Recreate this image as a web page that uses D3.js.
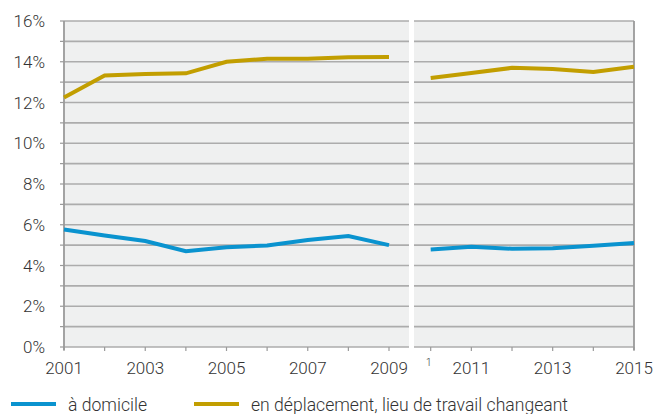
<!DOCTYPE html>
<html lang="fr">
<head>
  <meta charset="UTF-8">
  <title>Lieu de travail</title>
  <script src="https://d3js.org/d3.v7.min.js"></script>
  <style>
    body { margin: 0; background: #fff; font-family: Roboto, sans-serif; }
    text { font-family: Roboto, sans-serif; font-weight: 300; fill: #333; }
  </style>
</head>
<body>
<svg id="chart" width="654" height="414"></svg>
<script>
// données
const yearsA = [2001, 2002, 2003, 2004, 2005, 2006, 2007, 2008, 2009];
const yearsB = [2010, 2011, 2012, 2013, 2014, 2015];
const domicileA = [5.77, 5.47, 5.2, 4.7, 4.9, 4.98, 5.25, 5.45, 5.0];
const domicileB = [4.79, 4.92, 4.82, 4.85, 4.97, 5.11];
const deplacementA = [12.25, 13.33, 13.4, 13.43, 14.0, 14.15, 14.15, 14.22, 14.23];
const deplacementB = [13.2, 13.45, 13.7, 13.65, 13.5, 13.75];
const yTicks = [0, 2, 4, 6, 8, 10, 12, 14, 16];
const xLabels = [2001, 2003, 2005, 2007, 2009, 2011, 2013, 2015];

const blue = "#0a93cf", gold = "#c29e00", grid = "#acacac";
const svg = d3.select("#chart");

const y = d3.scaleLinear().domain([0, 16]).range([347, 21]);
const xA = d3.scaleLinear().domain([2001, 2009]).range([64, 389]);
const xB = d3.scaleLinear().domain([2010, 2015]).range([430.7, 634]);

// panneaux
const panels = [[64, 409], [414, 634]];
panels.forEach(([x0, x1]) => {
  svg.append("rect").attr("x", x0).attr("y", y(16)).attr("width", x1 - x0)
    .attr("height", y(0) - y(16)).attr("fill", "#eff0f0");
  svg.append("g").selectAll("line").data(d3.range(0, 17)).join("line")
    .attr("x1", x0).attr("x2", x1)
    .attr("y1", d => y(d)).attr("y2", d => y(d))
    .attr("stroke", grid).attr("stroke-width", 1.6);
});

// axe y
svg.append("line").attr("x1", 64).attr("x2", 64).attr("y1", y(16)).attr("y2", y(0) + 3)
  .attr("stroke", "#9a9a9a").attr("stroke-width", 1.8);
svg.append("line").attr("x1", 634).attr("x2", 634).attr("y1", y(16)).attr("y2", y(0) + 3)
  .attr("stroke", "#9a9a9a").attr("stroke-width", 1.8);
svg.append("g").selectAll("line").data(d3.range(0, 17)).join("line")
  .attr("x1", 60).attr("x2", 64).attr("y1", d => y(d)).attr("y2", d => y(d))
  .attr("stroke", "#9a9a9a").attr("stroke-width", 1.2);
svg.append("g").selectAll("text").data(yTicks).join("text")
  .attr("x", 45).attr("y", d => y(d)).attr("dy", "0.36em")
  .attr("text-anchor", "end").style("font-size", "17px")
  .text(d => d + "%");

// axe x
const tickX = yearsA.map(d => xA(d)).concat(yearsB.map(d => xB(d)));
svg.append("g").selectAll("line").data(tickX).join("line")
  .attr("x1", d => d).attr("x2", d => d).attr("y1", y(0)).attr("y2", y(0) + 4)
  .attr("stroke", "#9a9a9a").attr("stroke-width", 1.2);
svg.append("g").selectAll("text").data(xLabels).join("text")
  .attr("x", d => d < 2010 ? xA(d) : xB(d)).attr("y", 374)
  .attr("text-anchor", "middle").style("font-size", "17px")
  .text(d => d);
svg.append("text").attr("x", xB(2010) - 2).attr("y", 366)
  .attr("text-anchor", "middle").style("font-size", "10px").text("1");

// lignes
const series = [
  { color: blue, a: domicileA, b: domicileB },
  { color: gold, a: deplacementA, b: deplacementB }
];
series.forEach(s => {
  const la = d3.line().x((d, i) => xA(yearsA[i])).y(d => y(d));
  const lb = d3.line().x((d, i) => xB(yearsB[i])).y(d => y(d));
  svg.append("path").attr("d", la(s.a)).attr("fill", "none")
    .attr("stroke", s.color).attr("stroke-width", 4);
  svg.append("path").attr("d", lb(s.b)).attr("fill", "none")
    .attr("stroke", s.color).attr("stroke-width", 4);
});

// légende
const legend = [
  { label: "à domicile", color: blue, x: 11 },
  { label: "en déplacement, lieu de travail changeant", color: gold, x: 194 }
];
legend.forEach(l => {
  svg.append("line").attr("x1", l.x).attr("x2", l.x + 45).attr("y1", 404).attr("y2", 404)
    .attr("stroke", l.color).attr("stroke-width", 4);
  svg.append("text").attr("x", l.x + 57).attr("y", 411)
    .style("font-size", "17.6px").text(l.label);
});
</script>
</body>
</html>
